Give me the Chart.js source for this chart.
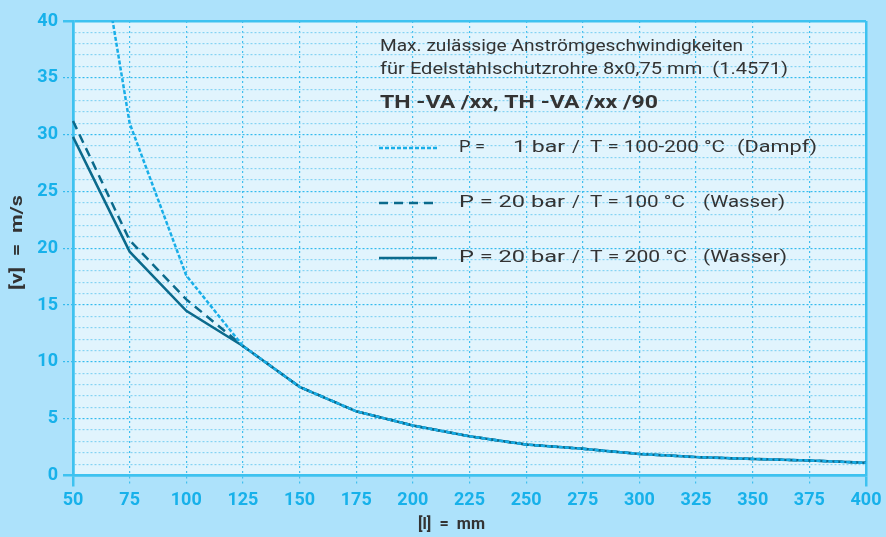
<!DOCTYPE html>
<html>
<head>
<meta charset="utf-8">
<script src="https://cdn.jsdelivr.net/npm/chart.js@4.4.1/dist/chart.umd.min.js"></script>
<style>
  html, body { margin: 0; padding: 0; background: #ade2fb; }
</style>
</head>
<body>
<canvas id="chart" width="886" height="537"></canvas>
<script>
// tube length [l] in mm
const lengths = ['50', '75', '100', '125', '150', '175', '200', '225', '250', '275', '300', '325', '350', '375', '400'];

// max. flow velocity [v] in m/s
const steam1bar = [61, 31.0, 17.6, 11.4, 7.8, 5.65, 4.4, 3.45, 2.72, 2.35, 1.9, 1.62, 1.46, 1.32, 1.12];
const water100 = [31.2, 20.7, 15.5, 11.4, 7.8, 5.65, 4.4, 3.45, 2.72, 2.35, 1.9, 1.62, 1.46, 1.32, 1.12];
const water200 = [29.8, 19.7, 14.5, 11.4, 7.8, 5.65, 4.4, 3.45, 2.72, 2.35, 1.9, 1.62, 1.46, 1.32, 1.12];

// legend texts, split into the columns of the original
const seriesLabels = [
    ['P =', '1 bar', '/', 'T = 100-200 °C', '(Dampf)'],
    ['P = 20 bar', '/', 'T = 100 °C', '(Wasser)'],
    ['P = 20 bar', '/', 'T = 200 °C', '(Wasser)']
];
const titleLines = [
    'Max. zulässige Anströmgeschwindigkeiten',
    'für Edelstahlschutzrohre 8x0,75 mm  (1.4571)'
];
const subTitle = 'TH -VA /xx, TH -VA /xx /90';

const cyan = '#17b1ea';
const axisBlue = '#3ec2f0';
const dark = '#0b6a8c';
const textGrey = '#333333';

const isEdgeY = c => c.tick && (c.tick.value === 0 || c.tick.value === 40);
const isMajorY = c => c.tick && c.tick.value % 5 === 0;
const isEdgeX = c => c.tick && (c.index === 0 || c.index === lengths.length - 1);

// the original uses a wide DIN face: stretch Roboto horizontally
function wideText(ctx, text, x, y, width) {
    const w = ctx.measureText(text).width;
    const sx = width ? width / w : 1.12;
    ctx.save();
    ctx.translate(x, y);
    ctx.scale(sx, 1);
    ctx.fillText(text, 0, 0);
    ctx.restore();
}

const paper = {
    id: 'paper',
    beforeDraw(chart) {
        const { ctx, chartArea: a } = chart;
        ctx.save();
        ctx.fillStyle = '#ade2fb';
        ctx.fillRect(0, 0, chart.width, chart.height);
        ctx.fillStyle = '#e1f4fd';
        ctx.fillRect(a.left, a.top, a.right - a.left, a.bottom - a.top);
        ctx.restore();
    },
    afterDraw(chart) {
        const ctx = chart.ctx;
        ctx.save();
        ctx.fillStyle = textGrey;
        ctx.textBaseline = 'middle';
        ctx.textAlign = 'left';

        ctx.font = '17px Roboto';
        wideText(ctx, titleLines[0], 380, 47, 363);
        wideText(ctx, titleLines[1], 380, 70, 408);
        ctx.font = 'bold 19px Roboto';
        wideText(ctx, subTitle, 380, 103, 278);

        // legend
        const rows = [148, 203, 258];
        const cols = [[459, 513, 572, 590, 737], [459, 572, 590, 703], [459, 572, 590, 703]];
        const spans = [[26, 52, 0, 135, 80], [106, 0, 95, 82], [106, 0, 97, 84]];
        chart.data.datasets.forEach((ds, i) => {
            ctx.save();
            ctx.strokeStyle = ds.borderColor;
            ctx.lineWidth = ds.borderWidth;
            ctx.setLineDash(ds.borderDash || []);
            ctx.beginPath();
            ctx.moveTo(379, rows[i]);
            ctx.lineTo(437, rows[i]);
            ctx.stroke();
            ctx.restore();
            ctx.font = '17px Roboto';
            seriesLabels[i].forEach((part, k) => wideText(ctx, part, cols[i][k], rows[i], spans[i][k]));
        });

        // axis titles
        ctx.font = 'bold 17px Roboto';
        wideText(ctx, '[l]  =  mm', 418, 525, 67);
        ctx.translate(18, 290);
        ctx.rotate(-Math.PI / 2);
        wideText(ctx, '[v]  =  m/s', 0, 0, 95);
        ctx.restore();
    }
};

new Chart(document.getElementById('chart'), {
    type: 'line',
    data: {
        labels: lengths,
        datasets: [
            { label: seriesLabels[0].join(' '), data: steam1bar, borderColor: '#18aee8', borderWidth: 2.5, borderDash: [4, 2] },
            { label: seriesLabels[1].join(' '), data: water100, borderColor: dark, borderWidth: 2.5, borderDash: [9, 6] },
            { label: seriesLabels[2].join(' '), data: water200, borderColor: dark, borderWidth: 2.5 }
        ]
    },
    options: {
        responsive: false,
        animation: false,
        layout: { padding: { top: 21, right: 20, left: 0, bottom: 0 } },
        elements: { point: { radius: 0 }, line: { tension: 0 } },
        plugins: { legend: { display: false }, tooltip: { enabled: false } },
        scales: {
            x: {
                grid: {
                    color: c => isEdgeX(c) ? axisBlue : '#40bfee',
                    lineWidth: c => isEdgeX(c) ? 2.5 : 1.2,
                    tickLength: 11,
                    tickColor: c => isEdgeX(c) ? axisBlue : '#40bfee',
                    tickBorderDash: c => isEdgeX(c) ? [] : [2, 3]
                },
                border: { color: axisBlue, width: 2.5, dash: c => isEdgeX(c) ? [] : [2, 3] },
                ticks: {
                    color: cyan,
                    font: { family: 'Roboto', size: 18, weight: 'bold' },
                    padding: 3,
                    maxRotation: 0,
                    autoSkip: false
                },
                afterFit(scale) { scale.height = 61.5; }
            },
            y: {
                min: 0,
                max: 40,
                grid: {
                    color: c => isEdgeY(c) ? axisBlue : (isMajorY(c) ? '#35bbee' : '#86d3f3'),
                    lineWidth: c => isEdgeY(c) ? 2.5 : 1.2,
                    tickLength: 10,
                    tickColor: c => isEdgeY(c) ? axisBlue : (isMajorY(c) ? '#35bbee' : 'rgba(0,0,0,0)'),
                    tickBorderDash: c => isEdgeY(c) ? [] : [2, 2]
                },
                border: { color: axisBlue, width: 2.5, dash: c => isEdgeY(c) ? [] : [2, 2] },
                ticks: {
                    stepSize: 1,
                    autoSkip: false,
                    color: cyan,
                    padding: 5,
                    font: { family: 'Roboto', size: 18, weight: 'bold' },
                    callback: v => v % 5 === 0 ? v : ''
                },
                afterFit(scale) { scale.width = 73; }
            }
        }
    },
    plugins: [paper]
});
</script>
</body>
</html>
